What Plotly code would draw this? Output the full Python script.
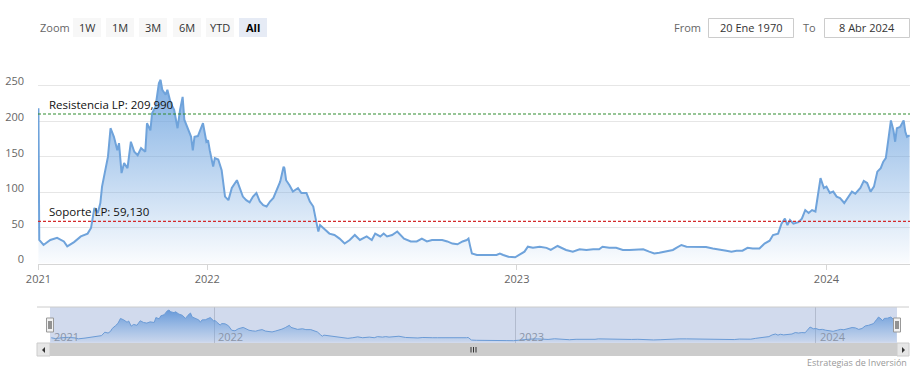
import plotly.graph_objects as go

# ---------------- data ----------------
dates_2021 = ["2021-06-16", "2021-06-17", "2021-06-22", "2021-06-30",
              "2021-07-08", "2021-07-16", "2021-07-20", "2021-07-28",
              "2021-08-05", "2021-08-13", "2021-08-17", "2021-08-21", "2021-08-25", "2021-08-28", "2021-08-30",
              "2021-09-03", "2021-09-06", "2021-09-09", "2021-09-13", "2021-09-17", "2021-09-19", "2021-09-22", "2021-09-25", "2021-09-29",
              "2021-10-03", "2021-10-07", "2021-10-11", "2021-10-15", "2021-10-20", "2021-10-22", "2021-10-26", "2021-10-28",
              "2021-11-01", "2021-11-05", "2021-11-07", "2021-11-09", "2021-11-13", "2021-11-15", "2021-11-19", "2021-11-23", "2021-11-27", "2021-11-30",
              "2021-12-03", "2021-12-05", "2021-12-09", "2021-12-13", "2021-12-15", "2021-12-17", "2021-12-21", "2021-12-25", "2021-12-27", "2021-12-31"]
values_2021 = [218, 33, 26, 33,
               36, 31, 24, 30,
               38, 42, 50, 78, 71, 85, 108,
               131, 150, 190, 178, 159, 169, 127, 141, 134,
               171, 157, 152, 162, 157, 197, 187, 211,
               220, 253, 258, 244, 237, 244, 225, 216, 190, 216,
               234, 202, 190, 178, 159, 178, 179, 190, 197, 171]

dates_2022 = ["2022-01-02", "2022-01-04", "2022-01-08", "2022-01-10", "2022-01-14", "2022-01-18", "2022-01-22", "2022-01-26", "2022-01-30",
              "2022-02-05", "2022-02-08", "2022-02-12", "2022-02-16", "2022-02-20", "2022-02-24", "2022-02-28",
              "2022-03-04", "2022-03-08", "2022-03-12", "2022-03-16", "2022-03-20", "2022-03-24", "2022-03-28",
              "2022-04-01", "2022-04-02", "2022-04-04", "2022-04-08", "2022-04-12", "2022-04-18", "2022-04-22", "2022-04-28",
              "2022-05-02", "2022-05-06", "2022-05-10", "2022-05-12", "2022-05-14", "2022-05-19", "2022-05-25", "2022-05-31",
              "2022-06-06", "2022-06-12", "2022-06-18", "2022-06-24", "2022-06-30",
              "2022-07-08", "2022-07-14", "2022-07-18", "2022-07-24", "2022-07-28",
              "2022-08-01", "2022-08-07", "2022-08-13", "2022-08-21", "2022-08-29",
              "2022-09-05", "2022-09-11", "2022-09-17", "2022-09-23", "2022-09-29",
              "2022-10-05", "2022-10-11", "2022-10-17", "2022-10-23", "2022-10-29",
              "2022-11-03", "2022-11-05", "2022-11-07", "2022-11-09", "2022-11-15", "2022-11-23", "2022-11-30",
              "2022-12-08", "2022-12-12", "2022-12-16", "2022-12-22", "2022-12-30"]
values_2022 = [173, 159, 136, 148, 146, 131, 94, 89, 106,
               117, 106, 94, 89, 86, 94, 99,
               87, 82, 80, 87, 92, 103, 115,
               136, 134, 117, 110, 101, 106, 99, 99,
               87, 80, 56, 45, 54, 49, 42, 40,
               35, 28, 33, 40, 33,
               38, 33, 42, 38, 42,
               38, 40, 45, 35, 31,
               31, 35, 31, 33, 33,
               33, 31, 28, 27, 31,
               33, 35, 24, 14, 12, 12.5, 12,
               12, 14, 12, 9.5, 8.7]

dates_2023 = ["2023-01-04", "2023-01-10", "2023-01-14", "2023-01-20", "2023-01-28",
              "2023-02-05", "2023-02-10", "2023-02-18", "2023-02-28",
              "2023-03-08", "2023-03-16", "2023-03-24",
              "2023-04-01", "2023-04-08", "2023-04-12", "2023-04-20", "2023-04-28",
              "2023-05-06", "2023-05-14", "2023-05-22", "2023-05-30",
              "2023-06-06", "2023-06-12", "2023-06-18", "2023-06-26",
              "2023-07-04", "2023-07-08", "2023-07-14", "2023-07-20", "2023-07-28",
              "2023-08-04", "2023-08-12", "2023-08-20", "2023-08-28",
              "2023-09-05", "2023-09-11", "2023-09-17", "2023-09-24", "2023-09-30",
              "2023-10-06", "2023-10-14", "2023-10-20", "2023-10-26", "2023-10-30",
              "2023-11-05", "2023-11-09", "2023-11-13", "2023-11-16", "2023-11-19", "2023-11-23", "2023-11-29",
              "2023-12-03", "2023-12-07", "2023-12-11", "2023-12-15", "2023-12-19", "2023-12-21", "2023-12-25", "2023-12-29"]
values_2023 = [12, 16.6, 23.6, 22, 23.6,
               22, 19, 24.6, 19,
               16.6, 20, 19,
               20, 20, 23.6, 22, 22,
               19, 19, 19, 20,
               16.6, 14, 15, 16.6,
               19, 22, 26, 23.6, 23.6,
               23, 23, 21, 20,
               18, 16.6, 18, 18, 22,
               21, 21, 28, 32, 40,
               42, 56, 63, 54, 61, 56, 58,
               63, 75, 71, 75, 73, 89, 120, 106]

dates_2024 = ["2024-01-01", "2024-01-05", "2024-01-09", "2024-01-13", "2024-01-17", "2024-01-22", "2024-01-27", "2024-01-31",
              "2024-02-04", "2024-02-10", "2024-02-14", "2024-02-18", "2024-02-22", "2024-02-26",
              "2024-03-01", "2024-03-05", "2024-03-08", "2024-03-11", "2024-03-15", "2024-03-17", "2024-03-20", "2024-03-22",
              "2024-03-24", "2024-03-28",
              "2024-04-01", "2024-04-03", "2024-04-05", "2024-04-08"]
values_2024 = [108, 99, 101, 94, 92, 85, 94, 101,
               98, 106, 116, 113, 101, 108,
               129, 134, 143, 148, 183, 201, 187, 171,
               190, 192,
               201, 185, 178, 180]

dates = dates_2021 + dates_2022 + dates_2023 + dates_2024
values = values_2021 + values_2022 + values_2023 + values_2024

resistance = 209.99
support = 59.13
resistance_label = "Resistencia LP: 209,990"
support_label = "Soporte LP: 59,130"

x_tick_vals = ["2021-06-16", "2022-01-01", "2023-01-01", "2024-01-01"]
x_tick_text = ["2021", "2022", "2023", "2024"]
y_tick_vals = [0, 50, 100, 150, 200, 250, 300]
y_tick_text = ["0", "50", "100", "150", "200", "250", ""]
zoom_buttons = ["1W", "1M", "3M", "6M", "YTD", "All"]
from_text = "20 Ene 1970"
to_text = "8 Abr 2024"
credit_text = "Estrategias de Inversión"

# ---------------- layout helpers ----------------
W, H = 919, 375


def px(x):
    return x / W


def py(y):
    return 1 - y / H


FONT = "Open Sans"
LINE = "#6fa3db"

fig = go.Figure()

fig.add_trace(go.Scatter(
    x=dates, y=values, mode="lines",
    line=dict(color=LINE, width=2),
    fill="tozeroy",
    fillgradient=dict(type="vertical",
                      colorscale=[[0, "rgba(104,160,222,0.03)"], [1, "rgba(104,160,222,0.85)"]],
                      start=0, stop=260),
    hoverinfo="skip", xaxis="x", yaxis="y", showlegend=False))

fig.add_trace(go.Scatter(
    x=dates[1:], y=values[1:], mode="lines",
    line=dict(color="#6b9bd6", width=1),
    fill="tozeroy",
    fillgradient=dict(type="vertical",
                      colorscale=[[0, "rgba(104,160,222,0.05)"], [1, "rgba(90,145,215,0.9)"]],
                      start=-10, stop=260),
    hoverinfo="skip", xaxis="x2", yaxis="y2", showlegend=False))

shapes = []
annotations = []

# support / resistance lines
shapes.append(dict(type="line", xref="paper", yref="y", x0=px(38), x1=px(910), y0=resistance, y1=resistance,
                   line=dict(color="#2e8b2e", width=1.1, dash="3px,2px")))
shapes.append(dict(type="line", xref="paper", yref="y", x0=px(38), x1=px(910), y0=support, y1=support,
                   line=dict(color="#d42a2a", width=1.1, dash="3px,2px")))
annotations.append(dict(text=resistance_label, xref="paper", yref="y", x=px(47), y=resistance,
                        xanchor="left", yanchor="bottom", showarrow=False,
                        font=dict(family=FONT, size=11.5, color="#111")))
annotations.append(dict(text=support_label, xref="paper", yref="y", x=px(47), y=support,
                        xanchor="left", yanchor="bottom", showarrow=False,
                        font=dict(family=FONT, size=11.5, color="#111")))

# range selector
annotations.append(dict(text="Zoom", xref="paper", yref="paper", x=px(38), y=py(27.5),
                        xanchor="left", yanchor="middle", showarrow=False,
                        font=dict(family=FONT, size=11, color="#666")))
btn_left = [73, 106, 139, 173, 206, 239]
for i, lab in enumerate(zoom_buttons):
    x0 = btn_left[i]
    sel = lab == "All"
    shapes.append(dict(type="rect", xref="paper", yref="paper", x0=px(x0), x1=px(x0 + 28),
                       y0=py(37), y1=py(18), line=dict(width=0),
                       fillcolor="#e6ebf5" if sel else "#f7f7f7", layer="above"))
    annotations.append(dict(text=("<b>%s</b>" % lab) if sel else lab, xref="paper", yref="paper",
                            x=px(x0 + 14), y=py(27.5), xanchor="center", yanchor="middle", showarrow=False,
                            font=dict(family=FONT, size=11, color="#000" if sel else "#333")))

# From / To inputs
annotations.append(dict(text="From", xref="paper", yref="paper", x=px(703), y=py(27.5),
                        xanchor="right", yanchor="middle", showarrow=False,
                        font=dict(family=FONT, size=11, color="#666")))
shapes.append(dict(type="rect", xref="paper", yref="paper", x0=px(708.5), x1=px(793.5), y0=py(37.5), y1=py(18.5),
                   line=dict(color="#cccccc", width=1), fillcolor="white"))
annotations.append(dict(text=from_text, xref="paper", yref="paper", x=px(751), y=py(27.5),
                        xanchor="center", yanchor="middle", showarrow=False,
                        font=dict(family=FONT, size=11, color="#333")))
annotations.append(dict(text="To", xref="paper", yref="paper", x=px(818), y=py(27.5),
                        xanchor="right", yanchor="middle", showarrow=False,
                        font=dict(family=FONT, size=11, color="#666")))
shapes.append(dict(type="rect", xref="paper", yref="paper", x0=px(824.5), x1=px(909.5), y0=py(37.5), y1=py(18.5),
                   line=dict(color="#cccccc", width=1), fillcolor="white"))
annotations.append(dict(text=to_text, xref="paper", yref="paper", x=px(867), y=py(27.5),
                        xanchor="center", yanchor="middle", showarrow=False,
                        font=dict(family=FONT, size=11, color="#333")))

# navigator
shapes.append(dict(type="rect", xref="paper", yref="paper", x0=px(50), x1=px(897), y0=py(343), y1=py(307),
                   line=dict(width=0), fillcolor="rgba(102,133,194,0.3)", layer="below"))
shapes.append(dict(type="line", xref="paper", yref="paper", x0=px(37), x1=px(909), y0=py(307), y1=py(307),
                   line=dict(color="#cccccc", width=1)))
for i, lab in enumerate(x_tick_text):
    annotations.append(dict(text=lab, xref="x2", yref="paper", x=x_tick_vals[i], y=py(336),
                            xanchor="left", yanchor="middle", xshift=2, showarrow=False,
                            font=dict(family=FONT, size=11, color="#8a95a8")))

# handles
for hx in (50, 897):
    shapes.append(dict(type="rect", xref="paper", yref="paper", x0=px(hx - 3.5), x1=px(hx + 3.5),
                       y0=py(332), y1=py(318), line=dict(color="#999999", width=1), fillcolor="#f2f2f2"))
    for lx in (hx - 1, hx + 1):
        shapes.append(dict(type="line", xref="paper", yref="paper", x0=px(lx), x1=px(lx),
                           y0=py(329), y1=py(321), line=dict(color="#333333", width=1)))

# scrollbar
shapes.append(dict(type="rect", xref="paper", yref="paper", x0=px(37), x1=px(909), y0=py(356), y1=py(343),
                   line=dict(width=0), fillcolor="#f2f2f2"))
shapes.append(dict(type="rect", xref="paper", yref="paper", x0=px(50), x1=px(897), y0=py(356), y1=py(343),
                   line=dict(width=0), fillcolor="#cccccc"))
for bx0, bx1 in ((37, 50), (897, 909)):
    shapes.append(dict(type="rect", xref="paper", yref="paper", x0=px(bx0), x1=px(bx1), y0=py(356), y1=py(343),
                       line=dict(color="#cccccc", width=1), fillcolor="#e6e6e6"))
shapes.append(dict(type="path", xref="paper", yref="paper",
                   path="M %f %f L %f %f L %f %f Z" % (px(45), py(347), px(45), py(353), px(42), py(350)),
                   fillcolor="#333333", line=dict(width=0)))
shapes.append(dict(type="path", xref="paper", yref="paper",
                   path="M %f %f L %f %f L %f %f Z" % (px(902), py(347), px(902), py(353), px(905), py(350)),
                   fillcolor="#333333", line=dict(width=0)))
for gx in (471, 473.5, 476):
    shapes.append(dict(type="line", xref="paper", yref="paper", x0=px(gx), x1=px(gx), y0=py(352.5), y1=py(347),
                       line=dict(color="#333333", width=1)))

# credits
annotations.append(dict(text=credit_text, xref="paper", yref="paper", x=px(909), y=py(362),
                        xanchor="right", yanchor="middle", showarrow=False,
                        font=dict(family=FONT, size=9, color="#999")))

x_range = ["2021-06-15 12:00", "2024-04-08 12:00"]

fig.update_layout(
    width=W, height=H,
    margin=dict(l=0, r=0, t=0, b=0, pad=0, autoexpand=False),
    paper_bgcolor="white", plot_bgcolor="rgba(0,0,0,0)",
    font=dict(family=FONT, size=11, color="#666"),
    showlegend=False,
    hovermode=False,
    xaxis=dict(domain=[px(38), px(910)], type="date", range=x_range,
               tickmode="array", tickvals=x_tick_vals, ticktext=x_tick_text,
               ticks="outside", ticklen=5, tickcolor="#d6d6d6",
               showline=True, linecolor="#d6d6d6", linewidth=1,
               showgrid=False, zeroline=False, anchor="y", automargin=False,
               tickfont=dict(family=FONT, size=11, color="#666"), fixedrange=True),
    yaxis=dict(domain=[py(263.5), py(49.9)], range=[0, 300],
               tickmode="array", tickvals=y_tick_vals, ticktext=y_tick_text,
               showgrid=True, gridcolor="#e6e6e6", gridwidth=1, zeroline=False,
               showline=False, ticks="", ticklabelshift=-4, ticklabelstandoff=13,
               automargin=False,
               tickfont=dict(family=FONT, size=11, color="#666"), anchor="x", fixedrange=True),
    xaxis2=dict(domain=[px(50), px(897)], type="date", range=x_range,
                tickmode="array", tickvals=x_tick_vals[1:], showticklabels=False, ticks="",
                showgrid=True, gridcolor="rgba(120,130,150,0.35)", gridwidth=1, automargin=False,
                zeroline=False, showline=False, anchor="y2", fixedrange=True),
    yaxis2=dict(domain=[py(343), py(307)], range=[-10, 283], visible=False, automargin=False,
                showgrid=False, zeroline=False, anchor="x2", fixedrange=True),
    shapes=shapes,
    annotations=annotations,
)

fig.write_html("out.html", config={"displayModeBar": False},
               post_script="document.body.style.margin='0px';document.body.style.overflow='hidden';")
